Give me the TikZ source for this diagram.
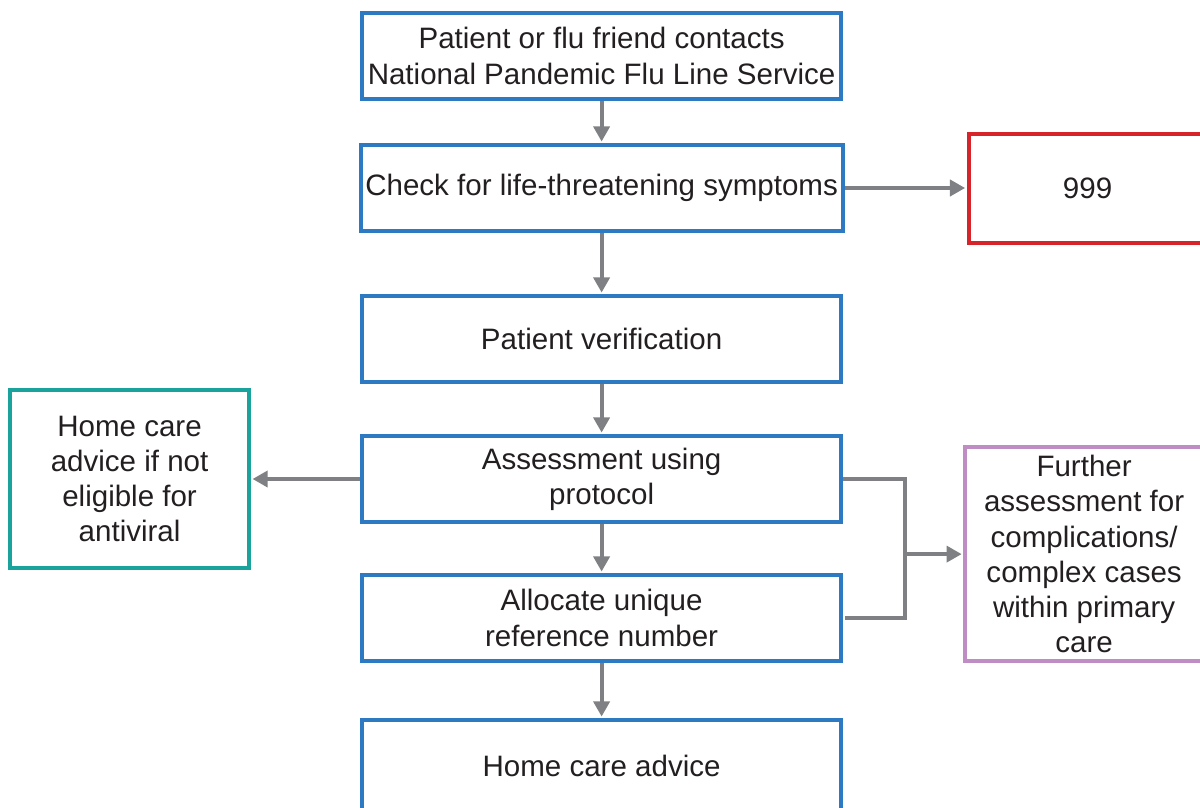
\documentclass[tikz,border=0pt]{standalone}
\usepackage{fontspec}
\setmainfont{Liberation Sans}
\usepackage{tikz}
\usetikzlibrary{arrows.meta,positioning,calc}

\definecolor{flublue}{HTML}{2E7AC2}
\definecolor{flured}{HTML}{D7242B}
\definecolor{fluteal}{HTML}{1AA39C}
\definecolor{flupurple}{HTML}{C08CC4}
\definecolor{flugrey}{HTML}{7E8083}
\definecolor{flutext}{HTML}{231F20}

\begin{document}
\begin{tikzpicture}[->,>={Triangle[length=0.38cm,width=0.4cm]},shorten >=1pt,
  draw=flugrey,line width=0.1cm]
\tikzstyle{every node}=[text=flutext,font=\fontsize{21}{25}\selectfont,align=center,line width=0.1cm]
\tikzstyle{flowbox}=[draw=flublue,minimum width=11.975cm,minimum height=2.15cm]
\tikzstyle{alertbox}=[draw=flured,minimum width=5.95cm,minimum height=2.725cm]
\tikzstyle{homebox}=[draw=fluteal,minimum width=5.975cm,minimum height=4.45cm]
\tikzstyle{gpbox}=[draw=flupurple,minimum width=5.95cm,minimum height=5.35cm]
\useasboundingbox (0,0) rectangle (30,-20.175);
\node[flowbox] (contact) at (15.04,-1.4) {Patient or flu friend contacts\\National Pandemic Flu Line Service};
\node[flowbox] [below=1.05cm of contact] (check) {Check for life-threatening symptoms};
\node[flowbox] [below=1.525cm of check] (verify) {Patient verification};
\node[flowbox] [below=1.25cm of verify] (assess) {Assessment using\\protocol};
\node[flowbox] [below=1.225cm of assess] (refno) {Allocate unique\\reference number};
\node[flowbox,minimum height=2.3cm] [below=1.375cm of refno] (advice) {Home care advice};
\node[alertbox] [right=3.05cm of check] (emerg) {999};
\node[homebox] [left=2.725cm of assess] (noav) {Home care\\advice if not\\eligible for\\antiviral};
\coordinate (split) at ([xshift=1.55cm,yshift=-0.14cm]$(assess.east)!0.5!(refno.east)$);
\node[gpbox] [right=1.45cm of split] (further) {Further\\assessment for\\complications/\\complex cases\\within primary\\care};
\path (contact) edge (check)
      (check) edge (verify)
              edge (emerg)
      (verify) edge (assess)
      (assess) edge (refno)
               edge (noav)
      (refno) edge (advice);
\draw[-] (assess.east) -| (split) |- (refno.east);
\draw (split) -- (further);
\end{tikzpicture}
\end{document}
